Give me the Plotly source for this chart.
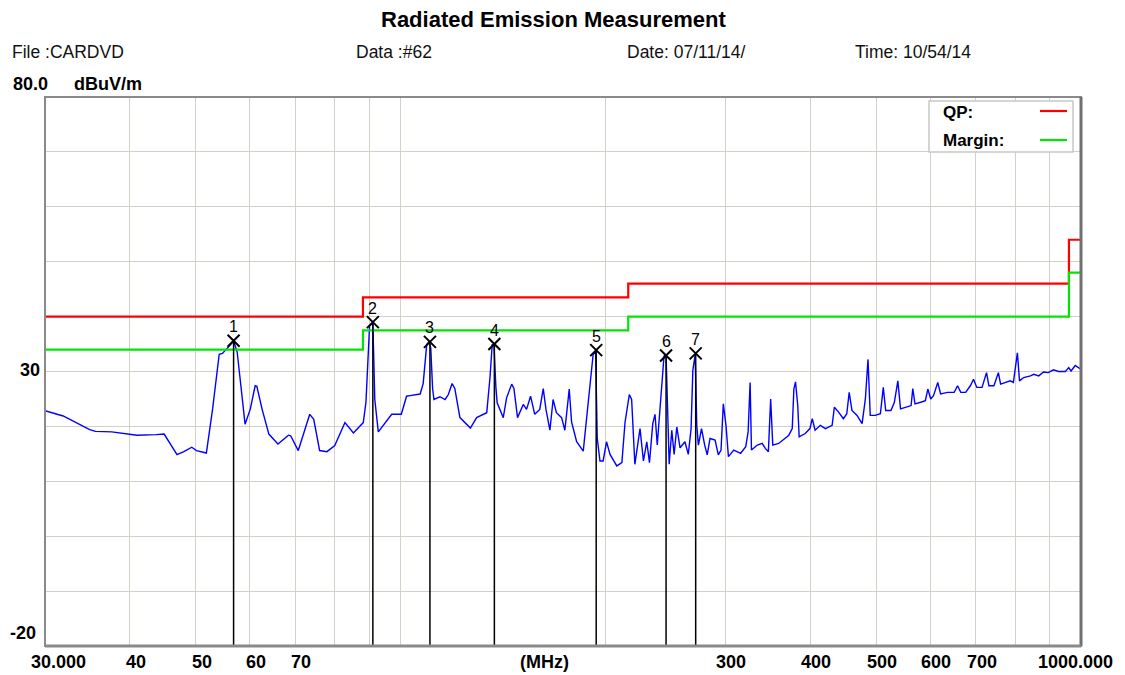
import numpy as np
import plotly.graph_objects as go

# ---------------- data ----------------
freq_mhz = [
    30.0, 31.9, 34.9, 35.6, 37.6, 39.75, 40.96, 43.7, 44.9, 46.9, 48.0, 49.3, 50.1, 51.8,
    52.9, 54.1, 54.7, 56.6, 56.8, 57.5, 59.05, 60.1, 61.1, 61.45, 62.55, 64.0, 66.0, 68.4,
    68.9, 70.7, 73.5, 74.5, 76.0, 77.9, 80.0, 82.8, 85.2, 88.1, 88.9, 90.0, 90.6, 91.0,
    91.3, 91.6, 92.7, 94.3, 97.0, 100.2, 102.0, 103.2, 106.8, 107.9, 109.2, 110.1, 110.7,
    111.4, 111.9, 114.2, 116.2, 117.5, 119.0, 120.1, 122.2, 126.6, 129.3, 133.8, 135.3,
    136.3, 137.1, 138.0, 138.6, 141.5, 143.1, 145.6, 146.7, 148.5, 151.4, 153.1, 155.2,
    157.4, 160.1, 162.0, 163.5, 165.7, 167.5, 169.4, 172.4, 174.3, 176.9, 178.3, 181.4,
    185.5, 189.7, 191.8, 193.4, 194.5, 196.3, 198.4, 200.7, 203.1, 207.8, 211.4, 213.7,
    216.8, 218.5, 220.9, 224.8, 227.4, 230.0, 232.1, 234.7, 236.5, 238.3, 241.9, 243.8,
    245.5, 246.9, 248.1, 250.3, 252.3, 254.6, 257.4, 261.7, 264.7, 267.2, 268.8, 270.9,
    272.4, 273.9, 276.8, 279.8, 282.2, 284.9, 289.8, 293.0, 295.7, 298.0, 300.7, 303.2,
    308.7, 316.0, 321.5, 324.1, 326.3, 327.8, 334.4, 339.9, 343.5, 347.1, 349.8, 352.3,
    359.4, 372.0, 376.3, 378.4, 380.5, 383.4, 385.2, 393.2, 399.5, 402.7, 406.6, 413.8,
    421.0, 430.7, 434.0, 440.2, 447.4, 452.6, 456.3, 460.6, 468.6, 476.7, 482.0, 486.3,
    490.0, 498.1, 507.1, 512.1, 516.3, 525.6, 531.7, 538.0, 542.9, 553.4, 562.7, 565.9,
    570.1, 581.3, 590.5, 595.5, 601.3, 607.0, 615.8, 621.8, 636.5, 651.0, 658.5, 665.7,
    676.7, 687.7, 695.0, 702.8, 715.4, 726.3, 732.2, 744.8, 756.0, 761.8, 774.4, 787.1,
    795.4, 806.3, 812.1, 823.6, 842.8, 852.3, 866.7, 881.0, 895.4, 910.9, 927.0, 948.6,
    959.2, 966.9, 980.7, 1000.0,
]
level_dbuv = [
    22.85, 21.9, 19.4, 19.1, 19.0, 18.7, 18.4, 18.5, 18.6, 14.85, 15.4, 16.2, 15.6, 15.15,
    23.15, 33.15, 33.3, 35.3, 35.6, 33.5, 20.4, 23.15, 27.4, 27.3, 23.15, 18.6, 16.8, 18.4,
    18.3, 15.6, 22.2, 21.3, 15.6, 15.4, 16.5, 20.7, 18.8, 20.7, 24.4, 38.3, 38.6, 39.0,
    30.8, 24.9, 19.0, 20.2, 22.2, 22.2, 25.5, 25.6, 25.9, 27.8, 34.9, 35.5, 34.3,
    26.9, 24.9, 25.4, 24.9, 25.8, 27.8, 26.9, 21.6, 19.7, 21.6, 22.5, 29.0,
    34.9, 34.9, 27.2, 24.3, 21.6, 25.2, 27.7, 26.9, 21.6, 24.0, 23.1, 25.5,
    22.2, 23.1, 26.9, 23.1, 19.3, 24.9, 22.5, 21.6, 19.3, 26.8, 20.8, 17.2,
    15.5, 27.8, 33.1, 33.7, 17.8, 13.7, 13.7, 17.2, 14.9, 12.8, 13.4, 20.8,
    25.8, 24.9, 13.1, 19.6, 13.7, 17.2, 13.4, 20.5, 22.2, 16.6, 27.2, 32.8,
    33.1, 22.5, 13.1, 19.3, 14.9, 19.9, 16.1, 17.2, 14.9, 19.6, 30.2, 33.1,
    20.2, 16.6, 19.6, 16.6, 14.8, 17.8, 17.5, 14.8, 15.7, 24.1, 20.2, 14.5,
    15.7, 15.1, 16.3, 19.0, 28.0, 15.7, 16.6, 16.9, 16.0, 15.4, 25.0, 16.6,
    16.9, 18.4, 19.6, 26.8, 28.1, 23.8, 18.1, 18.7, 19.6, 21.4, 19.3, 20.2,
    19.6, 20.2, 23.5, 22.6, 21.4, 22.3, 26.2, 22.9, 22.0, 20.5, 25.0, 32.2,
    22.0, 22.0, 22.3, 27.1, 22.9, 22.9, 24.4, 28.3, 23.2, 23.5, 23.8, 26.9,
    24.1, 24.4, 24.7, 26.8, 25.0, 25.6, 28.0, 25.9, 26.2, 26.2, 27.4, 26.2,
    26.2, 27.4, 28.6, 27.1, 27.1, 29.8, 27.4, 27.4, 29.8, 27.7, 28.0, 28.3,
    28.0, 33.4, 28.3, 28.9, 29.2, 29.5, 29.2, 29.9, 29.8, 30.3, 30.0, 30.0,
    30.7, 30.1, 31.1, 30.4,
]

limit_freq = [30, 88, 216, 960, 1000]
qp_limit = [40, 43.5, 46, 54, 54]
margin_limit = [34, 37.5, 40, 48, 48]

marker_freq = [56.8, 91.0, 110.4, 137.3, 193.8, 245.5, 271.4]
marker_level = [35.6, 39.0, 35.4, 35.0, 33.9, 32.9, 33.3]
marker_ids = ["1", "2", "3", "4", "5", "6", "7"]

grid_freqs = [30, 40, 50, 60, 70, 80, 90, 100, 200, 300, 400, 500, 600, 700, 800, 900, 1000]
x_tick_vals = [30, 40, 50, 60, 70, 300, 400, 500, 600, 700, 1000]
x_tick_text = ["30.000", "40", "50", "60", "70", "300", "400", "500", "600", "700", "1000.000"]
y_min, y_max = -20, 80
y_tick_vals = [80, 30, -20]
y_tick_text = ["80.0", "30", "-20"]

title_text = "Radiated Emission Measurement"
header_items = ["File :CARDVD", "Data :#62", "Date: 07/11/14/", "Time: 10/54/14"]
unit_text = "dBuV/m"
x_unit_text = "(MHz)"
legend_names = ["QP:", "Margin:"]

# ---------------- styles ----------------
FONT = "Liberation Sans, Arial, sans-serif"
RED = "#ff0000"
GREEN = "#00e600"
BLUE = "#0000ff"
GRID = "#d4d0c8"
FRAME = "#8a8a8a"

W, H = 1125, 675
ML, MR, MT, MB = 45, 44, 97, 29
PW, PH = W - ML - MR, H - MT - MB


def px(xp):
    return (xp - ML) / PW


def py(yp):
    return (H - MB - yp) / PH


fig = go.Figure()

fig.add_trace(go.Scatter(x=freq_mhz, y=level_dbuv, mode="lines",
                         line=dict(color=BLUE, width=1.4), showlegend=False, hoverinfo="skip"))
fig.add_trace(go.Scatter(x=limit_freq, y=qp_limit, mode="lines", line_shape="hv",
                         line=dict(color=RED, width=2.2), showlegend=False, name=legend_names[0]))
fig.add_trace(go.Scatter(x=limit_freq, y=margin_limit, mode="lines", line_shape="hv",
                         line=dict(color=GREEN, width=2.2), showlegend=False, name=legend_names[1]))

vx, vy = [], []
for f, lv in zip(marker_freq, marker_level):
    vx += [f, f, None]
    vy += [lv, y_min, None]
fig.add_trace(go.Scatter(x=vx, y=vy, mode="lines", line=dict(color="black", width=1.5),
                         showlegend=False, hoverinfo="skip"))
fig.add_trace(go.Scatter(x=marker_freq, y=marker_level, mode="markers",
                         marker=dict(symbol="x-thin", size=12, color="black",
                                     line=dict(color="black", width=2)),
                         showlegend=False, cliponaxis=False))

fig.update_xaxes(type="log", range=[np.log10(30), np.log10(1000)],
                 tickmode="array", tickvals=grid_freqs, showticklabels=False,
                 showgrid=True, gridcolor=GRID, gridwidth=1, zeroline=False,
                 showline=False, ticks="")
fig.update_yaxes(range=[y_min, y_max], tick0=y_min, dtick=10, showticklabels=False,
                 showgrid=True, gridcolor=GRID, gridwidth=1, zeroline=False,
                 showline=False, ticks="")

annotations = []
# marker numbers
for f, lv, t in zip(marker_freq, marker_level, marker_ids):
    annotations.append(dict(x=np.log10(f), xref="x", y=lv, yref="y", text=t,
                            showarrow=False, xanchor="center", yanchor="middle", yshift=14,
                            font=dict(family=FONT, size=16, color="black")))
# x tick labels
for i, (v, t) in enumerate(zip(x_tick_vals, x_tick_text)):
    shift = 6
    if i == 0:
        shift = 13
    elif i == len(x_tick_vals) - 1:
        shift = -6
    annotations.append(dict(x=np.log10(v), xref="x", y=0, yref="paper", text=t,
                            showarrow=False, xanchor="center", yanchor="middle",
                            xshift=shift, yshift=-16,
                            font=dict(family=FONT, size=18, color="black", weight="bold")))
annotations.append(dict(x=px(544), xref="paper", y=0, yref="paper", text=x_unit_text,
                        showarrow=False, xanchor="center", yanchor="middle", yshift=-16,
                        font=dict(family=FONT, size=18, color="black", weight="bold")))
# y tick labels
annotations.append(dict(x=px(50), xref="paper", y=y_tick_vals[0], yref="y", text=y_tick_text[0],
                        showarrow=False, xanchor="right", yanchor="middle", yshift=13,
                        font=dict(family=FONT, size=18, color="black", weight="bold")))
annotations.append(dict(x=px(72), xref="paper", y=y_tick_vals[0], yref="y", text=unit_text,
                        showarrow=False, xanchor="left", yanchor="middle", yshift=13,
                        font=dict(family=FONT, size=18, color="black", weight="bold")))
annotations.append(dict(x=px(42), xref="paper", y=y_tick_vals[1], yref="y", text=y_tick_text[1],
                        showarrow=False, xanchor="right", yanchor="middle", yshift=2,
                        font=dict(family=FONT, size=18, color="black", weight="bold")))
annotations.append(dict(x=px(38), xref="paper", y=y_tick_vals[2], yref="y", text=y_tick_text[2],
                        showarrow=False, xanchor="right", yanchor="middle", yshift=13,
                        font=dict(family=FONT, size=18, color="black", weight="bold")))
# title & header
annotations.append(dict(x=px(553), xref="paper", y=py(19), yref="paper", text=title_text,
                        showarrow=False, xanchor="center", yanchor="middle",
                        font=dict(family=FONT, size=22, color="black", weight="bold")))
for xpos, t in zip([10, 354, 625, 853], header_items):
    annotations.append(dict(x=px(xpos), xref="paper", y=py(52), yref="paper", text=t,
                            showarrow=False, xanchor="left", yanchor="middle",
                            font=dict(family=FONT, size=17.5, color="#111111")))
# legend text
for ypos, t in zip([112, 140], legend_names):
    annotations.append(dict(x=px(941), xref="paper", y=py(ypos), yref="paper", text=t,
                            showarrow=False, xanchor="left", yanchor="middle",
                            font=dict(family=FONT, size=17, color="black", weight="bold")))

shapes = [
    # legend box
    dict(type="rect", xref="paper", yref="paper", x0=px(929), x1=px(1073), y0=py(152), y1=py(101),
         line=dict(color="#c8c8c8", width=1.5), fillcolor="white", layer="above"),
    dict(type="line", xref="paper", yref="paper", x0=px(1040), x1=px(1067), y0=py(111), y1=py(111),
         line=dict(color=RED, width=2.2), layer="above"),
    dict(type="line", xref="paper", yref="paper", x0=px(1040), x1=px(1067), y0=py(140), y1=py(140),
         line=dict(color=GREEN, width=2.2), layer="above"),
    # plot frame
    dict(type="rect", xref="paper", yref="paper", x0=0, x1=1, y0=0, y1=1,
         line=dict(color=FRAME, width=2), layer="above"),
    dict(type="line", xref="paper", yref="paper", x0=1, x1=1, y0=0, y1=1,
         line=dict(color="#707070", width=3), layer="above"),
    dict(type="line", xref="paper", yref="paper", x0=0, x1=1, y0=0, y1=0,
         line=dict(color=FRAME, width=3), layer="above"),
]

fig.update_layout(width=W, height=H, margin=dict(l=ML, r=MR, t=MT, b=MB, pad=0),
                  paper_bgcolor="white", plot_bgcolor="white", showlegend=False,
                  annotations=annotations, shapes=shapes,
                  font=dict(family=FONT, color="black"))

fig.write_html("out.html", config={"displayModeBar": False},
               post_script="document.body.style.margin='0';document.body.style.overflow='hidden';")
